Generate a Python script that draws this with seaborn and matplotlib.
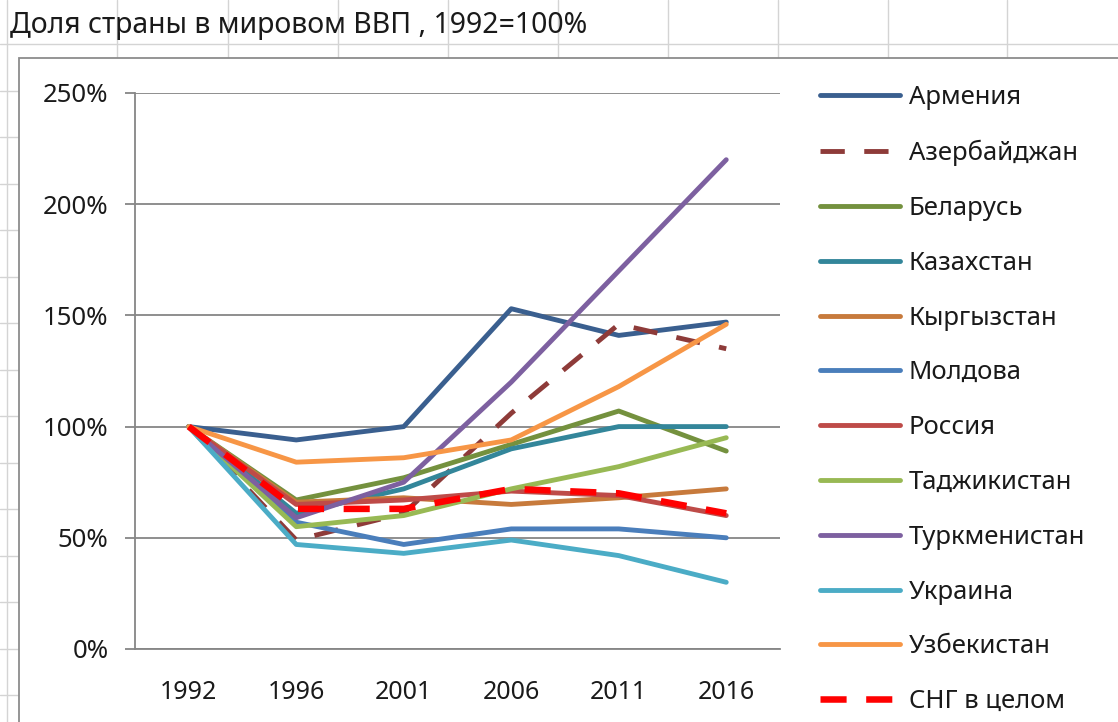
import matplotlib
matplotlib.use("Agg")
import matplotlib.pyplot as plt
import seaborn as sns
import pandas as pd
from matplotlib.lines import Line2D
from matplotlib.patches import Rectangle
from matplotlib.ticker import FixedLocator, PercentFormatter

years = ["1992", "1996", "2001", "2006", "2011", "2016"]
countries = ["Армения", "Азербайджан", "Беларусь", "Казахстан", "Кыргызстан",
             "Молдова", "Россия", "Таджикистан", "Туркменистан", "Украина",
             "Узбекистан", "СНГ в целом"]
armenia      = [100, 94, 100, 153, 141, 147]
azerbaijan   = [100, 49, 61, 106, 146, 135]
belarus      = [100, 67, 77, 92, 107, 89]
kazakhstan   = [100, 61, 72, 90, 100, 100]
kyrgyzstan   = [100, 66, 68, 65, 68, 72]
moldova      = [100, 57, 47, 54, 54, 50]
russia       = [100, 65, 67, 71, 69, 60]
tajikistan   = [100, 55, 60, 72, 82, 95]
turkmenistan = [100, 59, 75, 120, 170, 220]
ukraine      = [100, 47, 43, 49, 42, 30]
uzbekistan   = [100, 84, 86, 94, 118, 146]
cis          = [100, 63, 63, 72, 70, 61]
series = [armenia, azerbaijan, belarus, kazakhstan, kyrgyzstan, moldova, russia,
          tajikistan, turkmenistan, ukraine, uzbekistan, cis]

colors = ["#3A5F8F", "#8E3B39", "#74913E", "#33869A", "#C77A3C", "#4A7EBB",
          "#BE4B48", "#98B954", "#7D60A0", "#4BACC6", "#F79646", "#FF0000"]

rows = []
for name, vals in zip(countries, series):
    for i, v in enumerate(vals):
        rows.append({"country": name, "pos": i, "year": years[i], "value": v})
df = pd.DataFrame(rows)

sns.set_style("white")
plt.rcParams["font.family"] = ["Noto Sans", "DejaVu Sans"]

W, H = 1118, 722
fig = plt.figure(figsize=(W / 100, H / 100), dpi=100)
fig.patch.set_facecolor("white")

# spreadsheet grid behind the chart
gcol = "#D4D4D4"
for x in [7, 117, 228, 338, 448, 558, 668, 778, 888, 1007]:
    fig.add_artist(Line2D([x / W, x / W], [0, 1], color=gcol, lw=1, zorder=0))
for k in range(16):
    y = 44 + 46.5 * k
    fig.add_artist(Line2D([0, 1], [1 - y / H, 1 - y / H], color=gcol, lw=1, zorder=0))

# chart area
fig.add_artist(Rectangle((19 / W, -0.01), 1.2, 1 - 58 / H + 0.01, transform=fig.transFigure,
                         facecolor="white", edgecolor="#8C8C8C", lw=1.3, zorder=1))

fig.text(10 / W, 1 - 26 / H, "Доля страны в мировом ВВП , 1992=100%", fontsize=20.5,
         color="#1A1A1A", va="center", ha="left", zorder=3)

ax = fig.add_axes([135 / W, 1 - 649 / H, (780 - 135) / W, (649 - 93) / H], zorder=2)
ax.set_facecolor("none")

palette = dict(zip(countries, colors))
dash_map = {c: "" for c in countries}
dash_map["Азербайджан"] = (5, 4)
dash_map["СНГ в целом"] = (4, 3)
LW = 3.5
LW_CIS = 4.7

for name in countries:
    sub = df[df["country"] == name]
    lw = LW_CIS if name == "СНГ в целом" else LW
    sns.lineplot(data=sub, x="pos", y="value", ax=ax, color=palette[name], lw=lw,
                 label=name, legend=False, zorder=4 if name == "СНГ в целом" else 3,
                 solid_capstyle="round", dash_capstyle="butt")
    if dash_map[name]:
        ax.lines[-1].set_dashes(dash_map[name])

ax.set_xlim(-0.5, len(years) - 0.5)
ax.set_ylim(0, 250)
ax.yaxis.set_major_locator(FixedLocator([0, 50, 100, 150, 200, 250]))
ax.yaxis.set_major_formatter(PercentFormatter(decimals=0))
ax.set_xticks(range(len(years)))
ax.set_xticklabels(years)
ax.set_xticks([i - 0.5 for i in range(len(years) + 1)], minor=True)
ax.set_xlabel("")
ax.set_ylabel("")
ax.grid(axis="y", color="#868686", lw=1.3)
ax.set_axisbelow(True)
for s in ["top", "right"]:
    ax.spines[s].set_visible(False)
for s in ["left", "bottom"]:
    ax.spines[s].set_color("#868686")
    ax.spines[s].set_linewidth(1.3)
ax.tick_params(axis="x", which="major", length=0, pad=22, labelsize=18, labelcolor="#1A1A1A")
ax.tick_params(axis="x", which="minor", length=7, width=1.3, color="#868686", direction="out")
ax.tick_params(axis="y", which="major", length=7, width=1.3, color="#868686", direction="out",
               pad=12, labelsize=18.5, labelcolor="#1A1A1A", left=True)

handles = []
for name in countries:
    lw = LW_CIS if name == "СНГ в целом" else LW
    h = Line2D([], [], color=palette[name], lw=lw, solid_capstyle="round")
    if dash_map[name]:
        h.set_dashes(dash_map[name])
    handles.append(h)
leg = fig.legend(handles, countries, loc="upper left", bbox_to_anchor=(820 / W, 1 - 85 / H),
                 frameon=False, fontsize=18.5, handlelength=3.1, handletextpad=0.35,
                 labelspacing=1.16, borderaxespad=0, borderpad=0)
for t in leg.get_texts():
    t.set_color("#1A1A1A")

fig.savefig("out.png", dpi=100)
